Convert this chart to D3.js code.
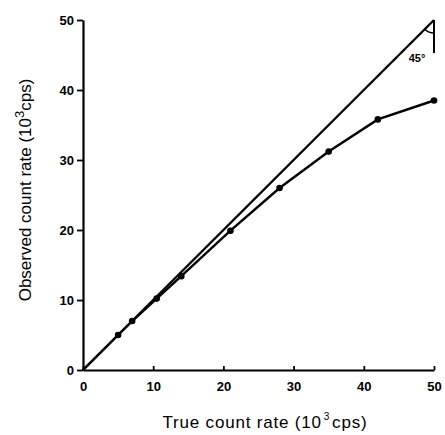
<!DOCTYPE html>
<html>
<head>
<meta charset="utf-8">
<script src="https://cdn.jsdelivr.net/npm/d3@7"></script>
<style>
  body { margin: 0; background: #fff; }
  text { font-family: "Liberation Sans", Arial, sans-serif; }
</style>
</head>
<body>
<script>
// true vs observed count rate, 10^3 cps
const trueRate = [0, 5, 7, 10.5, 14, 21, 28, 35, 42, 50];
const observedRate = [0, 5, 7, 10.2, 13.4, 19.9, 26, 31.2, 35.8, 38.5];
const idealLine = [0, 50];
const xTicks = [0, 10, 20, 30, 40, 50];
const yTicks = [0, 10, 20, 30, 40, 50];

const width = 445, height = 435;

const x = d3.scaleLinear().domain([0, 50]).range([83, 434]);
const y = d3.scaleLinear().domain([0, 50]).range([370, 20]);

const svg = d3.select("body").append("svg")
    .attr("width", width)
    .attr("height", height);

// axes
const xAxis = svg.append("g")
    .attr("transform", `translate(0,${y(0)})`)
    .call(d3.axisBottom(x).tickValues(xTicks).tickSize(-4).tickSizeOuter(0).tickPadding(12));
const yAxis = svg.append("g")
    .attr("transform", `translate(${x(0)},0)`)
    .call(d3.axisLeft(y).tickValues(yTicks).tickSize(6).tickSizeOuter(0).tickPadding(3));

[xAxis, yAxis].forEach(g => {
  g.select(".domain").attr("stroke", "#000").attr("stroke-width", 2.2);
  g.selectAll(".tick line").attr("stroke", "#000").attr("stroke-width", 1.8);
  g.selectAll(".tick text")
      .attr("fill", "#000")
      .attr("font-size", 13)
      .attr("font-weight", "bold");
});

// 45 degree reference line
svg.append("path")
    .datum(idealLine)
    .attr("fill", "none")
    .attr("stroke", "#000")
    .attr("stroke-width", 2.4)
    .attr("d", d3.line().x(d => x(d)).y(d => y(d)));

// angle marker at top
svg.append("line")
    .attr("x1", x(50)).attr("y1", y(50))
    .attr("x2", x(50)).attr("y2", y(50) + 33)
    .attr("stroke", "#000").attr("stroke-width", 2);
const r = 13;
svg.append("path")
    .attr("fill", "none")
    .attr("stroke", "#000")
    .attr("stroke-width", 1.6)
    .attr("d", `M${x(50) - r * Math.SQRT1_2},${y(50) + r * Math.SQRT1_2} A${r},${r} 0 0 0 ${x(50)},${y(50) + r}`);
svg.append("text")
    .attr("x", x(50) - 17)
    .attr("y", y(50) + 42)
    .attr("text-anchor", "middle")
    .attr("font-size", 11)
    .attr("font-weight", "bold")
    .text("45°");

// measured curve
svg.append("path")
    .datum(trueRate.map((d, i) => [d, observedRate[i]]))
    .attr("fill", "none")
    .attr("stroke", "#000")
    .attr("stroke-width", 2.4)
    .attr("d", d3.line().x(d => x(d[0])).y(d => y(d[1])));

svg.append("g")
    .selectAll("circle")
    .data(trueRate.map((d, i) => [d, observedRate[i]]).slice(1))
    .join("circle")
    .attr("cx", d => x(d[0]))
    .attr("cy", d => y(d[1]))
    .attr("r", 3.3)
    .attr("fill", "#000");

// axis titles
const xt = svg.append("text")
    .attr("x", 265)
    .attr("y", 428)
    .attr("text-anchor", "middle")
    .attr("font-size", 17)
    .attr("letter-spacing", 0.8);
xt.append("tspan").text("True count rate (10");
xt.append("tspan").attr("dy", -8).attr("dx", 2).attr("font-size", 10).text("3");
xt.append("tspan").attr("dy", 8).attr("dx", 2).text("cps)");

const yt = svg.append("text")
    .attr("transform", "translate(31,190) rotate(-90)")
    .attr("text-anchor", "middle")
    .attr("font-size", 17);
yt.append("tspan").text("Observed count rate (10");
yt.append("tspan").attr("dy", -7).attr("font-size", 13).text("3");
yt.append("tspan").attr("dy", 7).text("cps)");
</script>
</body>
</html>
